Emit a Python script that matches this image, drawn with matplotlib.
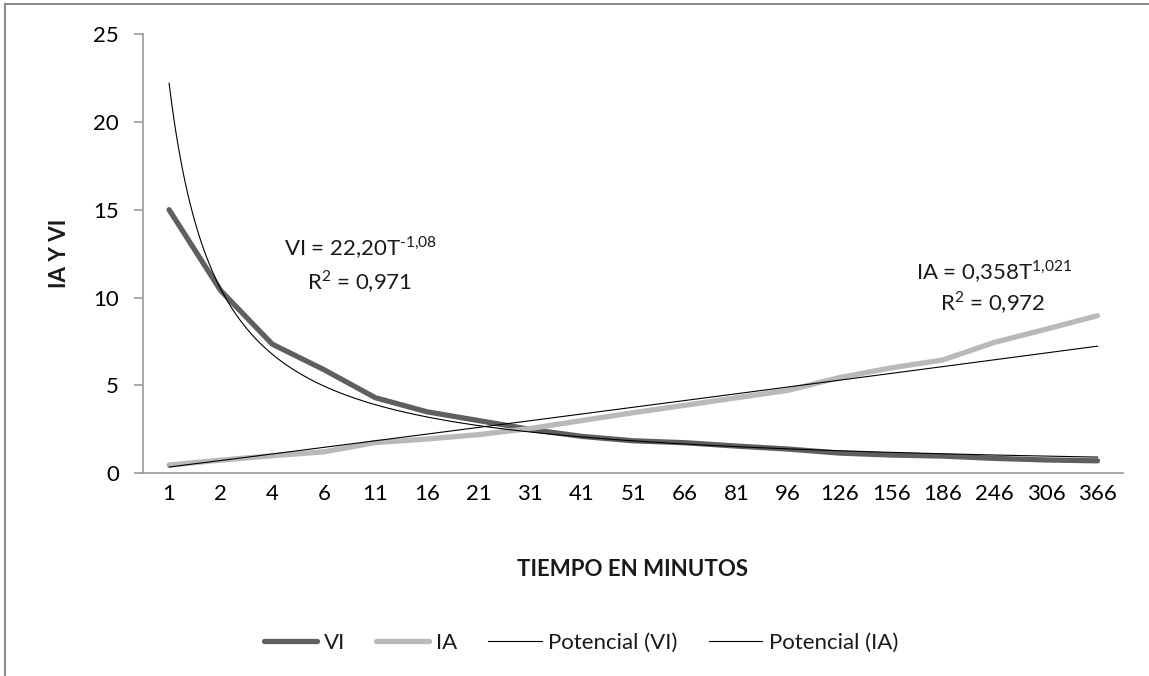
import numpy as np
import matplotlib
matplotlib.use("Agg")
from matplotlib import pyplot as plt

# Data (categorical x axis)
tiempo = ["1", "2", "4", "6", "11", "16", "21", "31", "41", "51",
          "66", "81", "96", "126", "156", "186", "246", "306", "366"]
vi = [15.0, 10.4, 7.35, 5.9, 4.3, 3.5, 3.0, 2.5, 2.1, 1.85,
      1.74, 1.55, 1.38, 1.15, 1.04, 0.98, 0.85, 0.76, 0.71]
ia = [0.47, 0.75, 1.0, 1.22, 1.75, 1.95, 2.2, 2.55, 3.0, 3.45,
      3.87, 4.3, 4.72, 5.45, 6.0, 6.45, 7.45, 8.2, 8.97]

# Power trendlines as printed on the chart (T = category index)
vi_coef, vi_exp = 22.20, -1.08
ia_coef, ia_exp = 0.358, 1.021

plt.rcParams['font.family'] = ['Lato', 'DejaVu Sans']
plt.rcParams['mathtext.fontset'] = 'custom'
plt.rcParams['mathtext.rm'] = 'Lato'
plt.rcParams['text.color'] = '#1a1a1a'

FS = 16

W, H = 1149, 676
fig = plt.figure(figsize=(W / 100, H / 100), dpi=100)
ax = fig.add_axes([143.3 / W, 1 - 473.3 / H, 980 / W, (473.3 - 34) / H])

x = np.arange(len(tiempo))
ax.plot(x, vi, color='#5f5f5f', lw=3.8, solid_capstyle='round',
        solid_joinstyle='round', label='VI', zorder=2)
ax.plot(x, ia, color='#b9b9b9', lw=3.8, solid_capstyle='round',
        solid_joinstyle='round', label='IA', zorder=2)

# smooth trend curves
t = np.linspace(1, len(tiempo), 400)
ax.plot(t - 1, vi_coef * t ** vi_exp, color='black', lw=0.8,
        label='Potencial (VI)', zorder=3)
ax.plot(t - 1, ia_coef * t ** ia_exp, color='black', lw=0.8,
        label='Potencial (IA)', zorder=3)

ax.set_xlim(-0.5, len(tiempo) - 0.5)
ax.set_ylim(0, 25)
ax.set_yticks(range(0, 26, 5))
ax.set_xticks(x)
ax.set_xticklabels(tiempo)

for side in ['top', 'right']:
    ax.spines[side].set_visible(False)
for side in ['left', 'bottom']:
    ax.spines[side].set_color('#9a9a9a')
    ax.spines[side].set_linewidth(1.2)

ax.tick_params(axis='y', direction='out', length=6.5, width=1.2,
               color='#9a9a9a', pad=11, labelsize=FS)
ax.tick_params(axis='x', length=0, pad=8, labelsize=FS)

# trendline equations
fig.text(361 / W, 1 - 248 / H, r'VI = 22,20T$^{\text{-1,08}}$',
         ha='center', va='center', fontsize=FS)
fig.text(360 / W, 1 - 282 / H, r'R$^{\text{2}}$ = 0,971',
         ha='center', va='center', fontsize=FS)
fig.text(994 / W, 1 - 272 / H, r'IA = 0,358T$^{\text{1,021}}$',
         ha='center', va='center', fontsize=FS)
fig.text(993 / W, 1 - 303 / H, r'R$^{\text{2}}$ = 0,972',
         ha='center', va='center', fontsize=FS)

# axis titles
fig.text(60 / W, 1 - 253 / H, 'IA Y VI', rotation=90, ha='center',
         va='center', fontsize=FS, fontweight='bold')
fig.text(633 / W, 1 - 569 / H, 'TIEMPO EN MINUTOS', ha='center',
         va='center', fontsize=FS, fontweight='bold')

fig.legend(loc='center', bbox_to_anchor=(581 / W, 1 - 643 / H), ncol=4,
           frameon=False, fontsize=FS, handlelength=2.4,
           handletextpad=0.3, columnspacing=1.4)

# chart area frame (cropped at the bottom/right in the reference)
fig.add_artist(plt.Line2D([4.5 / W, 4.5 / W], [0, 1 - 3.5 / H],
                          transform=fig.transFigure, color='#8a8a8a', lw=1.5))
fig.add_artist(plt.Line2D([4.5 / W, 1], [1 - 3.5 / H, 1 - 3.5 / H],
                          transform=fig.transFigure, color='#8a8a8a', lw=1.5))

fig.savefig('out.png', dpi=100)
